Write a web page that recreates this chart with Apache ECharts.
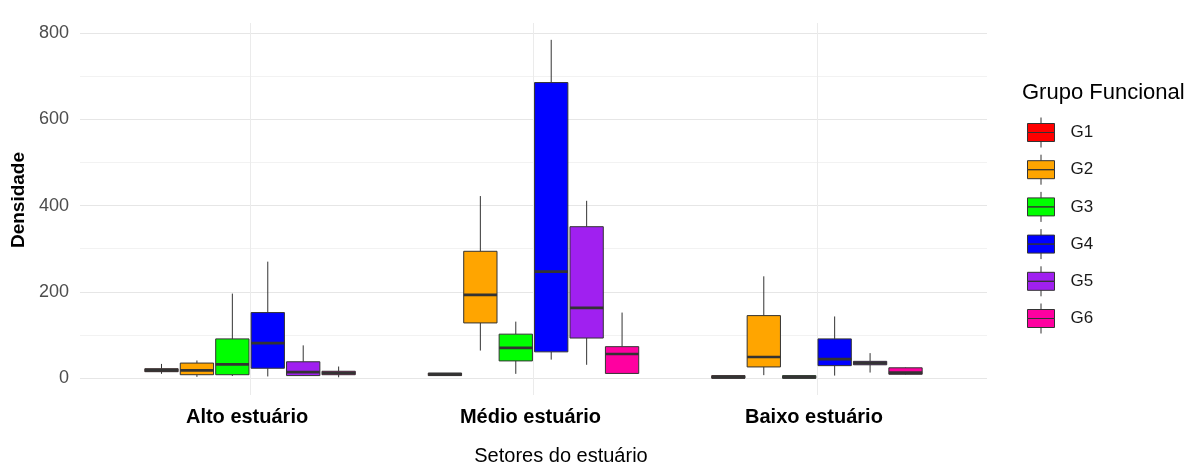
<!DOCTYPE html>
<html lang="pt">
<head>
    <meta charset="UTF-8">
    <title>Densidade por setor</title>
    <script src="https://cdn.jsdelivr.net/npm/echarts@6/dist/echarts.min.js"></script>
    <style>
        html, body { margin: 0; padding: 0; background: #fff; }
        #main { width: 1191px; height: 464px; }
    </style>
</head>
<body>
<div id="main"></div>
<script>
    // setores (eixo x) e grupos
    var setores = ['Alto estuário', 'Médio estuário', 'Baixo estuário'];
    var grupos = ['G1', 'G2', 'G3', 'G4', 'G5', 'G6'];
    var cores = ['#FF0000', '#FFA500', '#00FF00', '#0000FF', '#A020F0', '#FF00A0'];

    // [min, Q1, mediana, Q3, max] por setor
    var g1 = [[10, 15, 18, 22, 33], [6, 6, 9, 12, 12], [0, 0, 2, 6, 6]];
    var g2 = [[3, 8, 18, 35, 41], [64, 128, 193, 294, 422], [7, 26, 49, 145, 236]];
    var g3 = [[5, 8, 32, 91, 196], [10, 40, 70, 102, 131], [0, 0, 2, 6, 6]];
    var g4 = [[4, 23, 81, 152, 270], [43, 61, 247, 685, 784], [6, 29, 44, 91, 143]];
    var g5 = [[5, 6, 14, 38, 76], [31, 93, 163, 351, 411], [13, 31, 35, 39, 58]];
    var g6 = [[2, 8, 12, 16, 27], [11, 11, 56, 73, 152], [8, 9, 13, 24, 25]];
    var dados = [g1, g2, g3, g4, g5, g6];

    var yLabels = [0, 200, 400, 600, 800];
    var yGrid = [0, 100, 200, 300, 400, 500, 600, 700, 800];

    var passo = 0.125;     // dodge de cada grupo
    var largura = 0.1175;  // largura da caixa

    var chart = echarts.init(document.getElementById('main'));

    function renderBox(params, api) {
        var k = params.seriesIndex;
        var x = api.value(0) + (k - 2.5) * passo;
        var pMin = api.coord([x, api.value(1)]);
        var pQ1 = api.coord([x, api.value(2)]);
        var pMed = api.coord([x, api.value(3)]);
        var pQ3 = api.coord([x, api.value(4)]);
        var pMax = api.coord([x, api.value(5)]);
        var hw = api.size([largura, 0])[0] / 2;
        var linha = { stroke: '#333333', lineWidth: 1 };
        return {
            type: 'group',
            children: [
                { type: 'line', shape: { x1: pMax[0], y1: pMax[1], x2: pQ3[0], y2: pQ3[1] }, style: linha },
                { type: 'line', shape: { x1: pQ1[0], y1: pQ1[1], x2: pMin[0], y2: pMin[1] }, style: linha },
                {
                    type: 'rect',
                    shape: { x: pQ3[0] - hw, y: pQ3[1], width: hw * 2, height: pQ1[1] - pQ3[1] },
                    style: { fill: cores[k], stroke: '#333333', lineWidth: 1 }
                },
                {
                    type: 'line',
                    shape: { x1: pMed[0] - hw, y1: pMed[1], x2: pMed[0] + hw, y2: pMed[1] },
                    style: { stroke: '#333333', lineWidth: 2.7 }
                }
            ]
        };
    }

    var series = grupos.map(function (g, k) {
        return {
            name: g,
            type: 'custom',
            renderItem: renderBox,
            itemStyle: { color: cores[k] },
            encode: { x: 0, y: [1, 2, 3, 4, 5] },
            data: dados[k].map(function (v, i) { return [i].concat(v); }),
            clip: false
        };
    });

    var option = {
        animation: false,
        textStyle: { fontFamily: 'Liberation Sans, Arial, sans-serif' },
        grid: { left: 80, right: 204, top: 23, bottom: 69, outerBoundsMode: 'none', containLabel: false },
        title: {
            text: 'Grupo Funcional',
            left: 1022,
            top: 82,
            padding: 0,
            textStyle: { fontSize: 22, fontWeight: 'normal', color: '#000' }
        },
        legend: {
            data: grupos,
            orient: 'vertical',
            left: 1027,
            top: 117,
            padding: 0,
            itemWidth: 27,
            itemHeight: 30,
            itemGap: 6.2,
            icon: 'path://M13.5,0L13.5,6M0,6h27v9H0zM0,15h27v9H0zM13.5,24L13.5,30',
            itemStyle: { borderColor: '#333333', borderWidth: 1 },
            textStyle: { fontSize: 17, color: '#1a1a1a', padding: [0, 0, 0, 11] }
        },
        xAxis: {
            type: 'value',
            min: -0.6,
            max: 2.6,
            name: 'Setores do estuário',
            nameLocation: 'middle',
            nameGap: 51,
            nameTextStyle: { fontSize: 20, color: '#000', padding: [0, 0, 0, 55] },
            axisLine: { show: false },
            axisTick: { show: false, customValues: [0, 1, 2] },
            axisLabel: {
                customValues: [0, 1, 2],
                formatter: function (v) { return setores[Math.round(v)]; },
                fontSize: 20,
                fontWeight: 'bold',
                color: '#000',
                margin: 12,
                padding: [0, 6, 0, 0]
            },
            splitLine: { show: true, lineStyle: { color: '#ebebeb', width: 1 } }
        },
        yAxis: {
            type: 'value',
            min: -39,
            max: 823,
            name: 'Densidade',
            nameLocation: 'middle',
            nameGap: 41,
            nameTextStyle: { fontSize: 19, fontWeight: 'bold', color: '#000', padding: [0, 0, 0, 18] },
            axisLine: { show: false },
            axisTick: { show: false, customValues: yGrid },
            axisLabel: {
                customValues: yLabels,
                fontSize: 18,
                color: '#4d4d4d',
                margin: 11
            },
            splitLine: { show: true, lineStyle: { color: ['#e6e6e6', '#f2f2f2'], width: 1 } }
        },
        series: series
    };

    chart.setOption(option);
</script>
</body>
</html>
